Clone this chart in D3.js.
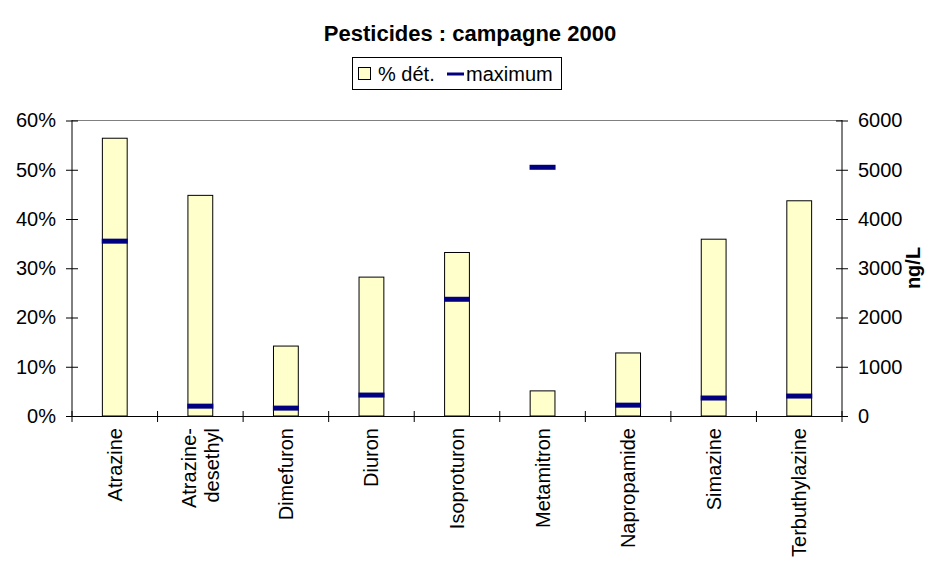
<!DOCTYPE html>
<html><head><meta charset="utf-8">
<script src="https://cdn.jsdelivr.net/npm/d3@7"></script>
<style>body{margin:0;background:#fff}svg{display:block}text{font-family:Arial,"Liberation Sans",sans-serif;fill:#000}</style>
</head><body><svg id="c" width="939" height="564"></svg>
<script>
const categories = ["Atrazine","Atrazine-desethyl","Dimefuron","Diuron","Isoproturon","Metamitron","Napropamide","Simazine","Terbuthylazine"];
const labelLines = [["Atrazine"],["Atrazine-","desethyl"],["Dimefuron"],["Diuron"],["Isoproturon"],["Metamitron"],["Napropamide"],["Simazine"],["Terbuthylazine"]];
const pctDet = [0.564, 0.448, 0.142, 0.282, 0.332, 0.051, 0.128, 0.359, 0.437];
const maxNgL = [3550, 200, 160, 425, 2370, 5050, 220, 365, 405];
const leftTicks = [0, 0.1, 0.2, 0.3, 0.4, 0.5, 0.6];
const rightTicks = [0, 1000, 2000, 3000, 4000, 5000, 6000];
const title = "Pesticides : campagne 2000";
const seriesNames = ["% dét.", "maximum"];
const rightAxisTitle = "ng/L";

const svg = d3.select("#c");
const L = 72, R = 842, T = 120.5, B = 416;
const x = d3.scaleBand().domain(categories).range([L, R]).paddingInner(0).paddingOuter(0);
const y1 = d3.scaleLinear().domain([0, 0.6]).range([B, T]);
const y2 = d3.scaleLinear().domain([0, 6000]).range([B, T]);
const bw = x.bandwidth() * 0.29;
const fs = "20px";

// title
svg.append("text").attr("x", 470).attr("y", 41).attr("text-anchor", "middle")
  .style("font-weight", "bold").style("font-size", "22px").text(title);

// plot top border
svg.append("line").attr("x1", L).attr("x2", R).attr("y1", T).attr("y2", T).attr("stroke", "#808080").attr("stroke-width", 1);

// bars
svg.append("g").selectAll("rect").data(categories).join("rect")
  .attr("x", d => x(d) + (x.bandwidth() - bw) / 2)
  .attr("y", (d, i) => y1(pctDet[i]))
  .attr("width", bw)
  .attr("height", (d, i) => B - y1(pctDet[i]))
  .attr("fill", "#FFFFCC").attr("stroke", "#000").attr("stroke-width", 1);

// axes
const gL = svg.append("g").attr("transform", `translate(${L},0)`)
  .call(d3.axisLeft(y1).tickValues(leftTicks).tickFormat(d3.format(".0%")).tickSize(6).tickPadding(10));
gL.selectAll(".tick line").attr("x1", 6);
const gR = svg.append("g").attr("transform", `translate(${R},0)`)
  .call(d3.axisRight(y2).tickValues(rightTicks).tickFormat(d3.format("d")).tickSize(6).tickPadding(10));
gR.selectAll(".tick line").attr("x1", -6);
const gB = svg.append("g").attr("transform", `translate(0,${B})`)
  .call(d3.axisBottom(x).tickValues([]).tickSizeOuter(0));
const bounds = d3.range(categories.length + 1).map(i => i === categories.length ? R : x(categories[i]));
gB.selectAll("line.bt").data(bounds).join("line").attr("class", "bt")
  .attr("x1", d => d).attr("x2", d => d).attr("y1", -5).attr("y2", 6).attr("stroke", "#000");
[gL, gR, gB].forEach(g => {
  g.selectAll(".domain").attr("stroke", "#000").attr("stroke-width", 1);
  g.selectAll(".tick line").attr("stroke", "#000");
  g.selectAll(".tick text").attr("font-size", 20).attr("font-family", "Arial, 'Liberation Sans', sans-serif").attr("fill", "#000");
});
gL.attr("font-size", 20); gR.attr("font-size", 20);
gL.select(".domain").attr("d", `M0,${T - 0.5}V${B}`);
gR.select(".domain").attr("d", `M0,${T - 0.5}V${B}`);

// category labels
const lab = svg.append("g");
categories.forEach((c, i) => {
  const cx = x(c) + x.bandwidth() / 2;
  const lines = labelLines[i];
  const lh = 23;
  lines.forEach((ln, j) => {
    const off = (j - (lines.length - 1) / 2) * lh;
    lab.append("text").attr("transform", `translate(${cx + off + 7},${B + 12}) rotate(-90)`)
      .attr("text-anchor", "end").style("font-size", fs).text(ln);
  });
});

// max markers
svg.append("g").selectAll("rect").data(categories).join("rect")
  .attr("x", d => x(d) + x.bandwidth() / 2 - 13)
  .attr("y", (d, i) => y2(maxNgL[i]) - 2.5)
  .attr("width", 26).attr("height", 5).attr("fill", "#000080");

// right axis title
svg.append("text").attr("transform", `translate(${920},${268}) rotate(-90)`)
  .attr("text-anchor", "middle").style("font-weight", "bold").style("font-size", fs).text(rightAxisTitle);

// legend
const lg = svg.append("g");
lg.append("rect").attr("x", 352.5).attr("y", 57.5).attr("width", 209).attr("height", 32)
  .attr("fill", "#fff").attr("stroke", "#000");
lg.append("rect").attr("x", 358.5).attr("y", 67.5).attr("width", 12).attr("height", 12)
  .attr("fill", "#FFFFCC").attr("stroke", "#000");
lg.append("text").attr("x", 378).attr("y", 81).style("font-size", fs).text(seriesNames[0]);
lg.append("line").attr("x1", 447).attr("x2", 464).attr("y1", 74).attr("y2", 74).attr("stroke", "#000080").attr("stroke-width", 3);
lg.append("text").attr("x", 466).attr("y", 81).style("font-size", fs).text(seriesNames[1]);
</script></body></html>
